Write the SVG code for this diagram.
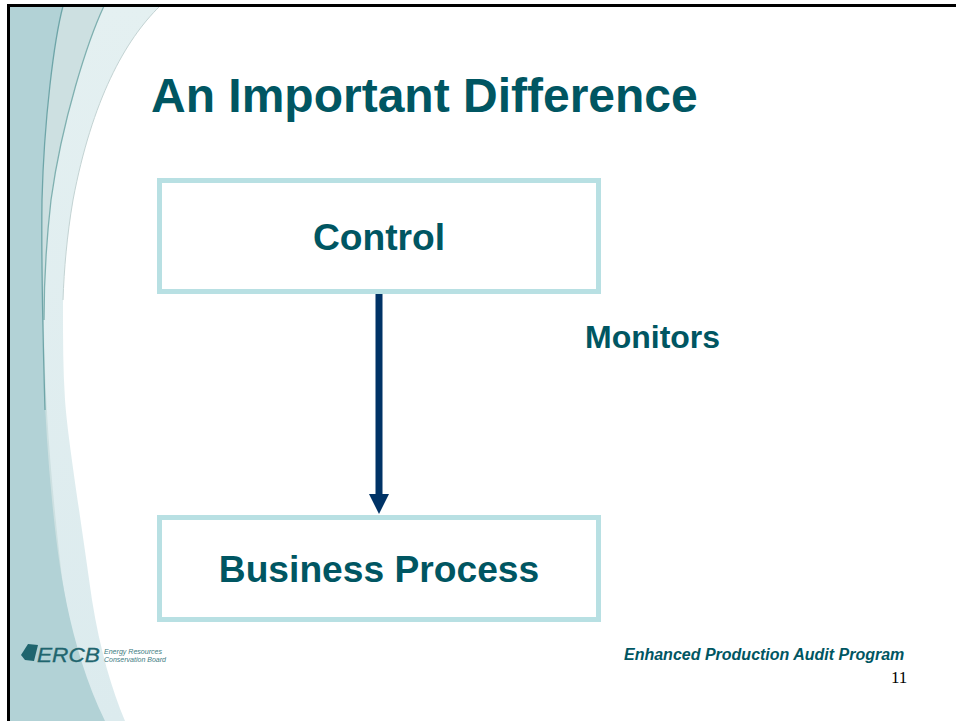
<svg xmlns="http://www.w3.org/2000/svg" width="956" height="721" viewBox="0 0 956 721">
<style>
.h{font-family:"Liberation Sans",Arial,sans-serif;font-weight:bold;fill:#005662}
.box{fill:#fff;stroke:#b8e0e3;stroke-width:5}
.c{text-anchor:middle;font-size:37.200px}
</style>
<defs>
<linearGradient id="g1" x1="0" y1="0" x2="0" y2="1"><stop offset="0" stop-color="#e4f0f1"/><stop offset="1" stop-color="#dcebee"/></linearGradient>
<marker id="ah" markerUnits="userSpaceOnUse" markerWidth="20" markerHeight="20" refX="0" refY="10" orient="auto"><path d="M0 0L20 10L0 20Z" fill="#003366"/></marker>
</defs>
<rect width="956" height="721" fill="#fff"/>
<g id="background">
<path d="M160 6C125 40 92 100 73 200C65 250 63 280 63 310C63 340 63 370 65 400C68 440 78 500 92 600C100 650 112 690 125 721H9V6Z" fill="url(#g1)"/>
<path d="M160 6C125 40 92 100 73 200C67 235 64 270 63 300" fill="none" stroke="#c3d3d3" stroke-width="1"/>
<path d="M104 6C88 40 62 120 51 200C47 235 44 270 44 330C45 400 50 470 60 560C66 620 84 680 100 721H9V6Z" fill="#cde0e1"/>
<path d="M104 6C88 40 62 120 51 200C47 235 44 270 44 320" fill="none" stroke="#7fb0b0" stroke-width="1.300"/>
<path d="M63 6C54 40 44 120 42 200C41 290 42 400 52 500C57 550 66 640 105 721H9V6Z" fill="#b2d2d6"/>
<path d="M63 6C54 40 44 120 42 200C41 270 43 340 45 410" fill="none" stroke="#6ea5a8" stroke-width="1.300"/>
<path d="M9 5.500H956M8.500 4V721" fill="none" stroke="#000" stroke-width="3"/>
</g>
<text class="h" x="151" y="112" font-size="48px">An Important Difference</text>
<g id="control"><rect class="box" x="159.500" y="180.500" width="439" height="111"/><text class="h c" x="379" y="250">Control</text></g>
<g id="business-process"><rect class="box" x="159.500" y="517.500" width="439" height="102"/><text class="h c" x="379" y="582">Business Process</text></g>
<g id="connectors"><line x1="379" y1="294" x2="379" y2="494" stroke="#003366" stroke-width="7" marker-end="url(#ah)"/></g>
<text class="h" x="585" y="348" font-size="32px">Monitors</text>
<g id="logo">
<path d="M28 644L38 645L34 661L25 660L21 655Z" fill="#1f656e"/>
<text x="37" y="662" font-family="Liberation Sans,sans-serif" font-style="italic" font-size="20px" fill="#1f656e" stroke="#1f656e" stroke-width="0.300" textLength="63" lengthAdjust="spacingAndGlyphs">ERCB</text>
<text font-family="Liberation Sans,sans-serif" font-style="italic" font-size="7.500px" fill="#3d7b82"><tspan x="104" y="654" textLength="58" lengthAdjust="spacingAndGlyphs">Energy Resources</tspan><tspan x="104" y="662" textLength="62" lengthAdjust="spacingAndGlyphs">Conservation Board</tspan></text>
</g>
<text class="h" x="624" y="660" font-size="16px" font-style="italic">Enhanced Production Audit Program</text>
<text x="891" y="683" font-family="Liberation Serif,serif" font-size="17px" fill="#000">11</text>
</svg>
